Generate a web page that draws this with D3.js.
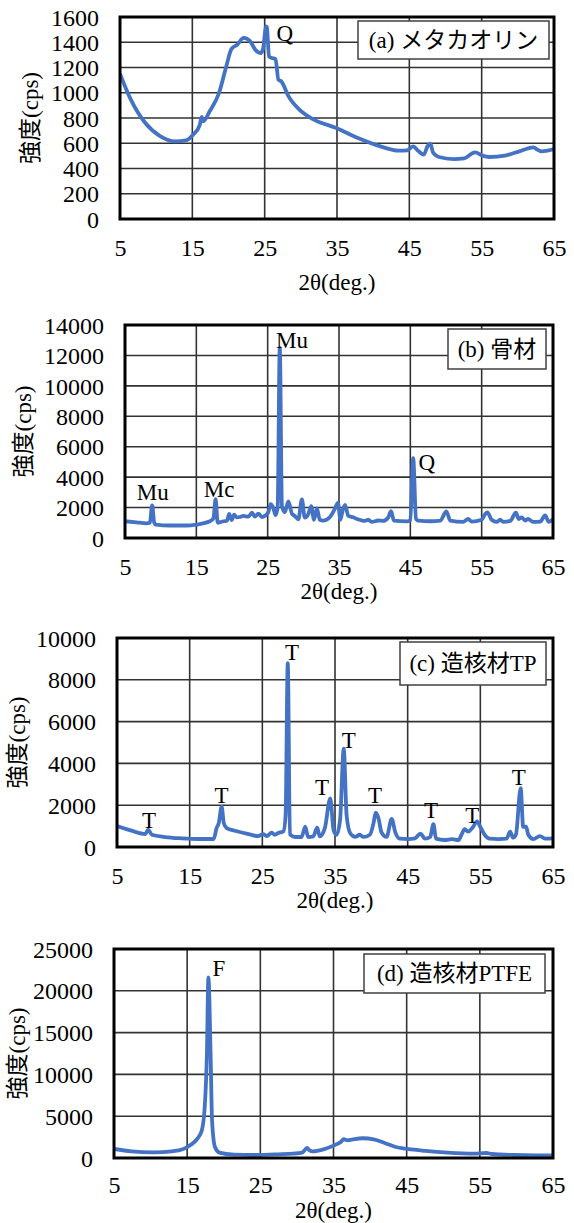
<!DOCTYPE html>
<html>
<head>
<meta charset="utf-8">
<script src="https://cdn.jsdelivr.net/npm/d3@7"></script>
<style>
  html, body { margin: 0; padding: 0; background: #fff; }
  svg { display: block; }
  text { font-family: "Liberation Serif", "Times New Roman", "Noto Sans CJK JP", serif; fill: #000; }
</style>
</head>
<body>
<svg id="chart" width="574" height="1223"></svg>
<script>
// ---------- data ----------
const xTicks = [5, 15, 25, 35, 45, 55, 65];
const xLabel = "2θ(deg.)";
const yLabel = "強度(cps)";

// (a) メタカオリン
const titleA = "(a) メタカオリン";
const yTicksA = [0, 200, 400, 600, 800, 1000, 1200, 1400, 1600];
const angleA = [5, 6.5, 8.5, 10.6, 12.6, 14.1, 15.1, 16.0, 16.3, 16.5, 17.4, 18.7, 19.7, 20.4, 21.2, 22.1, 23.0, 23.7, 24.5, 24.8, 25.2, 25.3, 25.6, 26.0, 26.5, 26.9, 27.3, 28.3, 29.8, 31.8, 34.9, 37.9, 41.0, 43.5, 44.7, 45.5, 46.3, 47.0, 47.5, 47.9, 48.3, 49.1, 51.1, 52.6, 53.6, 54.1, 55.1, 56.1, 58.2, 60.2, 62.2, 62.7, 63.2, 65];
const cpsA = [1150, 945, 760, 655, 615, 623, 668, 740, 808, 773, 853, 1000, 1210, 1346, 1380, 1434, 1407, 1341, 1315, 1354, 1526, 1520, 1288, 1275, 1267, 1103, 1090, 971, 866, 787, 721, 641, 575, 541, 544, 575, 536, 510, 575, 597, 523, 491, 475, 480, 517, 528, 502, 491, 502, 536, 567, 549, 536, 554];
const peaksA = [{ text: "Q", angle: 27.8, cps: 1473 }];

// (b) 骨材
const titleB = "(b) 骨材";
const yTicksB = [0, 2000, 4000, 6000, 8000, 10000, 12000, 14000];
const angleB = [5, 6.6, 8.0, 8.5, 8.8, 9.1, 9.3, 11.3, 13.6, 15.0, 16.9, 17.4, 17.7, 18.0, 18.3, 18.8, 19.3, 19.6, 19.95, 20.3, 20.65, 21.1, 21.6, 22.3, 22.8, 23.2, 23.7, 24.2, 24.6, 25.1, 25.4, 25.8, 26.1, 26.4, 26.7, 27.0, 27.4, 27.9, 28.4, 28.8, 29.3, 29.8, 30.2, 30.7, 31.1, 31.5, 31.9, 32.3, 32.8, 33.7, 34.4, 34.85, 35.2, 35.5, 35.85, 36.3, 37.0, 37.5, 37.9, 38.6, 39.1, 39.6, 40.5, 41.2, 41.9, 42.3, 42.7, 44.5, 45.0, 45.4, 45.8, 46.1, 47.8, 49.2, 50.05, 50.6, 52.4, 53.1, 53.6, 55.0, 55.5, 55.8, 56.4, 57.1, 57.6, 58.0, 59.0, 59.8, 60.2, 60.6, 61.1, 61.5, 62.2, 63.2, 63.9, 64.4, 65];
const cpsB = [1100, 1030, 965, 1000, 2150, 1000, 880, 820, 820, 880, 1100, 1300, 2550, 1000, 1030, 1100, 1140, 1580, 1180, 1530, 1360, 1380, 1450, 1400, 1670, 1400, 1600, 1380, 1450, 1700, 2230, 1960, 1500, 2000, 12500, 2100, 1700, 2400, 1600, 1450, 1230, 2540, 1340, 1570, 2100, 1200, 1950, 1200, 1140, 1360, 1900, 2300, 1200, 1800, 2180, 1450, 1360, 1250, 1200, 1120, 1200, 1060, 1150, 1120, 1360, 1770, 1140, 1090, 1150, 5250, 1250, 1140, 1100, 1140, 1750, 1140, 1060, 1250, 1080, 1200, 1580, 1680, 1200, 1060, 1200, 1060, 1120, 1660, 1250, 1360, 1150, 1250, 1060, 1080, 1480, 1060, 1250];
const peaksB = [
  { text: "Mu", angle: 8.9, cps: 3020 },
  { text: "Mc", angle: 18.2, cps: 3220 },
  { text: "Mu", angle: 28.4, cps: 13000 },
  { text: "Q", angle: 47.3, cps: 4990 }
];

// (c) 造核材TP
const titleC = "(c) 造核材TP";
const yTicksC = [0, 2000, 4000, 6000, 8000, 10000];
const angleC = [5, 7.0, 8.9, 9.3, 9.8, 11.6, 13.9, 16.2, 18.3, 18.7, 19.0, 19.4, 19.7, 20.1, 21.2, 23.1, 24.4, 25.1, 25.6, 26.3, 26.7, 27.2, 27.9, 28.2, 28.5, 28.8, 29.5, 30.4, 30.9, 31.3, 32.0, 32.55, 32.9, 33.6, 34.35, 34.8, 35.2, 35.7, 36.2, 36.6, 37.1, 37.8, 38.4, 38.9, 39.8, 40.3, 40.6, 41.0, 41.4, 42.1, 42.8, 43.3, 43.9, 45.1, 46.0, 46.75, 47.4, 48.1, 48.55, 48.9, 50.1, 51.1, 52.0, 52.4, 52.85, 53.3, 54.0, 54.55, 55.0, 55.6, 56.3, 57.5, 58.6, 59.1, 59.5, 59.9, 60.55, 60.9, 61.3, 61.6, 62.3, 63.2, 63.9, 65];
const cpsC = [1000, 780, 620, 830, 585, 478, 415, 383, 383, 905, 1140, 1930, 1140, 905, 780, 620, 525, 620, 525, 685, 585, 670, 750, 1500, 8800, 600, 478, 478, 970, 478, 510, 920, 510, 900, 2330, 800, 580, 1300, 4700, 1500, 660, 480, 585, 480, 585, 1140, 1640, 1350, 700, 480, 1340, 700, 400, 380, 415, 640, 400, 480, 1090, 400, 335, 380, 335, 585, 850, 740, 960, 1230, 960, 585, 400, 380, 400, 740, 445, 600, 2810, 960, 970, 585, 380, 525, 400, 415];
const peaksC = [
  { text: "T", angle: 9.4, cps: 1290 },
  { text: "T", angle: 19.4, cps: 2490 },
  { text: "T", angle: 29.1, cps: 9330 },
  { text: "T", angle: 33.2, cps: 2870 },
  { text: "T", angle: 36.9, cps: 5120 },
  { text: "T", angle: 40.5, cps: 2490 },
  { text: "T", angle: 48.2, cps: 1770 },
  { text: "T", angle: 53.9, cps: 1530 },
  { text: "T", angle: 60.3, cps: 3350 }
];

// (d) 造核材PTFE
const titleD = "(d) 造核材PTFE";
const yTicksD = [0, 5000, 10000, 15000, 20000, 25000];
const angleD = [5, 7.4, 10.4, 12.9, 14.4, 15.4, 16.4, 17.0, 17.4, 17.7, 17.9, 18.2, 18.4, 18.8, 19.4, 21.4, 24.4, 27.5, 29.5, 30.7, 31.4, 31.7, 32.2, 33.5, 35.0, 36.0, 36.4, 36.9, 37.5, 39.0, 40.5, 42.0, 43.5, 45.1, 47.6, 50.6, 54.1, 55.9, 56.6, 59.6, 62.6, 65];
const cpsD = [1080, 800, 680, 800, 1040, 1520, 2320, 3300, 6100, 12500, 21600, 12500, 4500, 1320, 640, 400, 360, 440, 520, 640, 1200, 920, 800, 1000, 1480, 1920, 2240, 2120, 2200, 2360, 2240, 1800, 1320, 1080, 840, 640, 520, 600, 480, 360, 320, 320];
const peaksD = [{ text: "F", angle: 19.35, cps: 22730 }];

// ---------- layout ----------
const panels = [
  { title: titleA, yTicks: yTicksA, angle: angleA, cps: cpsA, peaks: peaksA,
    left: 120, right: 554, top: 17, bottom: 219, xLabY: 248, titleY: 282, yLabX: 30,
    box: { x0: 358, x1: 549, y0: 21, y1: 59 } },
  { title: titleB, yTicks: yTicksB, angle: angleB, cps: cpsB, peaks: peaksB,
    left: 125, right: 553, top: 325, bottom: 538, xLabY: 567, titleY: 591, yLabX: 23,
    box: { x0: 448, x1: 546, y0: 329, y1: 369 } },
  { title: titleC, yTicks: yTicksC, angle: angleC, cps: cpsC, peaks: peaksC,
    left: 117, right: 553, top: 638, bottom: 847, xLabY: 876, titleY: 900, yLabX: 17,
    box: { x0: 400, x1: 546, y0: 642, y1: 685 } },
  { title: titleD, yTicks: yTicksD, angle: angleD, cps: cpsD, peaks: peaksD,
    left: 114, right: 553, top: 949, bottom: 1158, xLabY: 1185, titleY: 1210, yLabX: 17,
    box: { x0: 364, x1: 545, y0: 954, y1: 993 } }
];

const svg = d3.select("#chart");
const FS = 23;
const TFS = 24;

panels.forEach((p, i) => {
  const x = d3.scaleLinear().domain([5, 65]).range([p.left, p.right]);
  const yMax = p.yTicks[p.yTicks.length - 1];
  const y = d3.scaleLinear().domain([0, yMax]).range([p.bottom, p.top]);
  const g = svg.append("g");

  // grid
  g.selectAll(".hg").data(p.yTicks).enter().append("line")
    .attr("x1", p.left).attr("x2", p.right)
    .attr("y1", d => y(d)).attr("y2", d => y(d))
    .attr("stroke", "#333").attr("stroke-width", 1.6);
  g.selectAll(".vg").data(xTicks).enter().append("line")
    .attr("x1", d => x(d)).attr("x2", d => x(d))
    .attr("y1", p.top).attr("y2", p.bottom)
    .attr("stroke", "#333").attr("stroke-width", 1.6);

  // axes (labels only)
  const ya = g.append("g").attr("transform", `translate(${p.left},0)`)
    .call(d3.axisLeft(y).tickValues(p.yTicks).tickSize(0).tickPadding(21).tickFormat(d3.format("d")));
  ya.select(".domain").remove();
  ya.selectAll("text").attr("font-size", TFS).attr("font-family", null).attr("dy", "0.34em");

  const xa = g.append("g").attr("transform", `translate(0,${p.xLabY})`)
    .call(d3.axisBottom(x).tickValues(xTicks).tickSize(0).tickPadding(0).tickFormat(d3.format("d")));
  xa.select(".domain").remove();
  xa.selectAll("text").attr("font-size", TFS).attr("font-family", null).attr("y", 0).attr("dy", "0.34em");

  // clip
  const cid = "clip" + i;
  svg.append("clipPath").attr("id", cid).append("rect")
    .attr("x", p.left).attr("y", p.top).attr("width", p.right - p.left).attr("height", p.bottom - p.top);

  const pts = p.angle.map((a, k) => [a, p.cps[k]]);
  const line = d3.line().x(d => x(d[0])).y(d => y(d[1])).curve(d3.curveMonotoneX);
  g.append("path").datum(pts).attr("d", line)
    .attr("fill", "none").attr("stroke", "#4472C4").attr("stroke-width", 3.8)
    .attr("stroke-linejoin", "round").attr("clip-path", `url(#${cid})`);

  // frame
  g.append("rect").attr("x", p.left).attr("y", p.top)
    .attr("width", p.right - p.left).attr("height", p.bottom - p.top)
    .attr("fill", "none").attr("stroke", "#000").attr("stroke-width", 3);

  // peak labels
  g.selectAll(".pk").data(p.peaks).enter().append("text")
    .attr("x", d => x(d.angle)).attr("y", d => y(d.cps))
    .attr("text-anchor", "middle").attr("dy", "0.34em")
    .attr("font-size", FS).text(d => d.text);

  // legend box
  g.append("rect").attr("x", p.box.x0).attr("y", p.box.y0)
    .attr("width", p.box.x1 - p.box.x0).attr("height", p.box.y1 - p.box.y0)
    .attr("fill", "#fff").attr("stroke", "#404040").attr("stroke-width", 1.5);
  g.append("text").attr("x", (p.box.x0 + p.box.x1) / 2).attr("y", (p.box.y0 + p.box.y1) / 2)
    .attr("text-anchor", "middle").attr("dy", "0.34em").attr("font-size", FS).text(p.title);

  // axis titles
  g.append("text").attr("x", (p.left + p.right) / 2).attr("y", p.titleY)
    .attr("text-anchor", "middle").attr("dy", "0.34em").attr("font-size", FS).text(xLabel);
  g.append("text").attr("transform", `translate(${p.yLabX},${(p.top + p.bottom) / 2}) rotate(-90)`)
    .attr("text-anchor", "middle").attr("dy", "0.34em").attr("font-size", FS).text(yLabel);
});
</script>
</body>
</html>
